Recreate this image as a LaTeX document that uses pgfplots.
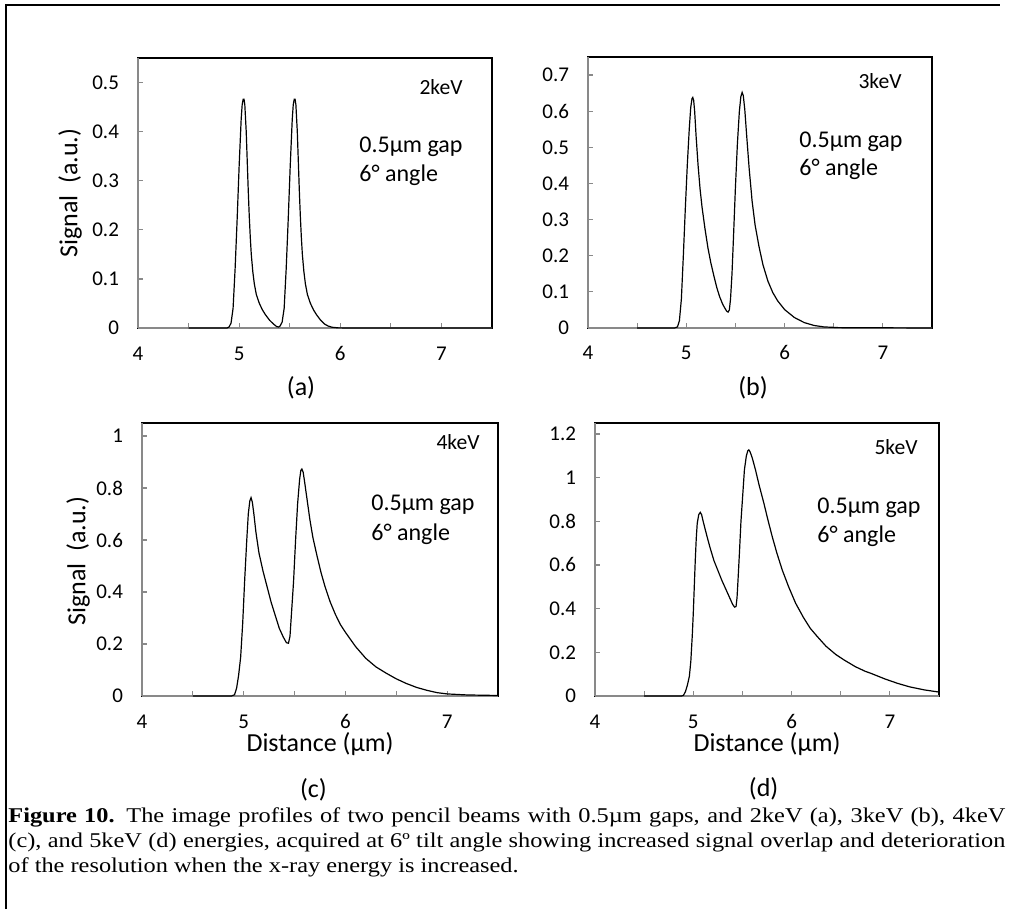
\documentclass[border=0pt]{standalone}
\usepackage{fontspec}
\setmainfont{Carlito}
\newfontfamily\capfont[FakeStretch=1.16]{Liberation Serif}
\usepackage{pgfplots}
\pgfplotsset{compat=1.18}
\definecolor{axgray}{HTML}{898989}

\pgfplotsset{
  panel/.style={
    scale only axis, anchor=north west,
    xmin=4, xmax=7.5, ymin=0,
    xtick={4,5,6,7}, minor xtick={4.5,5.5,6.5},
    tick pos=left, tick align=inside,
    major tick length=2.5pt, minor tick length=2.5pt,
    tick style={axgray, line width=0.6pt},
    axis line style={black, line width=0.8pt},
    ticklabel style={font=\fontsize{10.5}{12}\selectfont},
    /pgf/number format/assume math mode=true,
    yticklabel style={/pgf/number format/fixed, xshift=-6pt},
    xticklabel style={anchor=base, yshift=-16pt},
    clip=false,
  },
  curve/.style={black, line width=0.6pt, no marks},
}
\newcommand{\grayaxes}{%
  \draw[axgray, line width=1.1pt] (rel axis cs:0,0) -- (rel axis cs:1,0);
  \draw[axgray, line width=0.8pt] (rel axis cs:0,0) -- (rel axis cs:0,1);}

\begin{document}
\begin{tikzpicture}
\useasboundingbox (0,0) rectangle (505pt,-454.5pt);
\fill[white] (0,0) rectangle (505pt,-454.5pt);
\draw[line width=1pt] (3pt,-454.5pt) -- (3pt,-2.5pt) -- (500pt,-2.5pt);

% (a) 2keV
\begin{axis}[panel, at={(69pt,-29pt)}, width=177pt, height=135pt,
  ymax=0.55, ytick={0,0.1,0.2,0.3,0.4,0.5}]
\grayaxes
\addplot[curve] coordinates {
(4.5,0)(4.88,0)(4.9,0.002)(4.92,0.01)(4.94,0.04)(4.96,0.12)(4.98,0.22)(5.0,0.33)
(5.02,0.425)(5.03,0.455)(5.04,0.466)(5.048,0.466)(5.056,0.455)(5.07,0.40)(5.08,0.34)
(5.09,0.28)(5.10,0.228)(5.11,0.185)(5.12,0.15)(5.135,0.115)(5.15,0.09)(5.17,0.068)
(5.20,0.05)(5.23,0.037)(5.26,0.027)(5.30,0.016)(5.34,0.008)(5.37,0.003)(5.39,0.002)
(5.405,0.004)(5.425,0.012)(5.445,0.04)(5.465,0.12)(5.485,0.22)(5.505,0.33)(5.525,0.425)
(5.535,0.455)(5.545,0.466)(5.553,0.466)(5.561,0.455)(5.575,0.40)(5.585,0.34)(5.595,0.28)
(5.605,0.228)(5.615,0.185)(5.625,0.15)(5.64,0.115)(5.655,0.09)(5.675,0.068)(5.705,0.05)
(5.735,0.037)(5.765,0.027)(5.805,0.016)(5.845,0.008)(5.88,0.004)(5.92,0.0015)(5.98,0.0003)
(6.1,0)(7.5,0)};
\end{axis}

% (b) 3keV
\begin{axis}[panel, at={(294pt,-28.5pt)}, width=172pt, height=135.5pt,
  ymax=0.75, ytick={0,0.1,0.2,0.3,0.4,0.5,0.6,0.7}]
\grayaxes
\addplot[curve] coordinates {
(4.5,0)(4.88,0)(4.91,0.003)(4.93,0.02)(4.95,0.08)(4.97,0.2)(4.99,0.33)(5.01,0.45)
(5.03,0.55)(5.045,0.61)(5.058,0.635)(5.066,0.638)(5.075,0.63)(5.085,0.60)(5.10,0.53)
(5.12,0.45)(5.14,0.385)(5.16,0.335)(5.19,0.275)(5.22,0.222)(5.25,0.18)(5.28,0.145)
(5.31,0.112)(5.34,0.086)(5.37,0.066)(5.39,0.056)(5.41,0.047)(5.425,0.044)(5.438,0.05)
(5.45,0.08)(5.465,0.15)(5.48,0.25)(5.50,0.39)(5.52,0.51)(5.54,0.60)(5.555,0.64)
(5.568,0.652)(5.58,0.643)(5.595,0.605)(5.615,0.53)(5.64,0.44)(5.67,0.35)(5.70,0.285)
(5.74,0.225)(5.78,0.175)(5.83,0.13)(5.88,0.098)(5.93,0.075)(6.0,0.051)(6.1,0.029)
(6.2,0.015)(6.3,0.007)(6.4,0.003)(6.55,0.001)(7.5,0)};
\end{axis}

% (c) 4keV
\begin{axis}[panel, at={(71pt,-211.5pt)}, width=178pt, height=136.5pt,
  ymax=1.05, ytick={0,0.2,0.4,0.6,0.8,1}]
\grayaxes
\addplot[curve] coordinates {
(4.5,0)(4.88,0)(4.91,0.005)(4.93,0.03)(4.95,0.08)(4.97,0.15)(4.99,0.28)(5.01,0.45)
(5.03,0.6)(5.045,0.70)(5.06,0.75)(5.072,0.763)(5.085,0.745)(5.10,0.70)(5.12,0.63)
(5.15,0.55)(5.19,0.48)(5.23,0.42)(5.27,0.36)(5.31,0.31)(5.35,0.26)(5.39,0.226)
(5.42,0.205)(5.44,0.203)(5.455,0.23)(5.47,0.32)(5.49,0.44)(5.51,0.6)(5.53,0.74)
(5.55,0.835)(5.562,0.868)(5.572,0.873)(5.585,0.86)(5.60,0.82)(5.625,0.75)(5.65,0.68)
(5.68,0.61)(5.72,0.54)(5.76,0.475)(5.80,0.42)(5.85,0.362)(5.90,0.315)(5.95,0.275)
(6.0,0.245)(6.1,0.19)(6.2,0.145)(6.3,0.112)(6.4,0.088)(6.5,0.066)(6.6,0.048)
(6.7,0.033)(6.8,0.022)(6.9,0.013)(7.0,0.008)(7.2,0.004)(7.5,0.002)};
\end{axis}

% (d) 5keV
\begin{axis}[panel, at={(297.5pt,-211.5pt)}, width=172pt, height=136.5pt,
  ymax=1.25, ytick={0,0.2,0.4,0.6,0.8,1,1.2}]
\grayaxes
\addplot[curve] coordinates {
(4.5,0)(4.88,0)(4.90,0.003)(4.92,0.02)(4.94,0.05)(4.96,0.09)(4.975,0.16)(4.99,0.28)
(5.0,0.38)(5.01,0.50)(5.02,0.62)(5.03,0.72)(5.04,0.79)(5.055,0.83)(5.071,0.841)
(5.085,0.83)(5.10,0.80)(5.12,0.765)(5.14,0.73)(5.17,0.68)(5.21,0.62)(5.25,0.575)
(5.29,0.53)(5.32,0.50)(5.35,0.47)(5.38,0.44)(5.40,0.42)(5.42,0.407)(5.435,0.41)
(5.445,0.45)(5.455,0.53)(5.47,0.66)(5.485,0.80)(5.50,0.90)(5.52,1.035)(5.54,1.1)
(5.555,1.123)(5.565,1.127)(5.578,1.118)(5.60,1.09)(5.633,1.035)(5.67,0.965)(5.718,0.883)
(5.76,0.805)(5.803,0.73)(5.85,0.655)(5.905,0.577)(5.97,0.50)(6.041,0.425)(6.12,0.36)
(6.19,0.31)(6.262,0.272)(6.35,0.228)(6.45,0.19)(6.534,0.165)(6.65,0.134)(6.75,0.113)
(6.806,0.104)(6.95,0.078)(7.078,0.058)(7.2,0.042)(7.35,0.028)(7.5,0.018)};
\end{axis}

% axis titles and panel letters
\begin{scope}[every node/.style={inner sep=0, font=\fontsize{13}{15}\selectfont}]
\node[rotate=90] at (35pt,-96.5pt) {Signal\ \ (a.u.)};
\node[rotate=90] at (39pt,-280.5pt) {Signal\ \ (a.u.)};
\node at (160pt,-372pt) {Distance (µm)};
\node at (383.5pt,-372pt) {Distance (µm)};
\node at (150.5pt,-194pt) {(a)};
\node at (376.5pt,-194pt) {(b)};
\node at (156.7pt,-395pt) {(c)};
\node at (381.8pt,-394.5pt) {(d)};
\end{scope}

% annotations
\begin{scope}[every node/.style={inner sep=0, font=\fontsize{10.8}{13}\selectfont}]
\node[anchor=base east] at (231.5pt,-47.5pt) {2keV};
\node[anchor=base east] at (451pt,-44.5pt) {3keV};
\node[anchor=base east] at (240pt,-224.5pt) {4keV};
\node[anchor=base east] at (459pt,-227pt) {5keV};
\end{scope}
\begin{scope}[every node/.style={inner sep=0, anchor=base west, font=\fontsize{12}{14}\selectfont}]
\node at (179.5pt,-76.5pt) {0.5µm gap};
\node at (179.5pt,-91pt) {6° angle};
\node at (399.5pt,-74pt) {0.5µm gap};
\node at (399.5pt,-88pt) {6° angle};
\node at (185.5pt,-255pt) {0.5µm gap};
\node at (185.5pt,-270pt) {6° angle};
\node at (408.5pt,-256.5pt) {0.5µm gap};
\node at (408.5pt,-271pt) {6° angle};
\end{scope}

% caption
\node[anchor=base west, inner sep=0] at (4pt,-411pt) {\parbox[t]{498.5pt}{\capfont\fontsize{10.5}{12.5}\selectfont
\textbf{Figure 10.} The image profiles of two pencil beams with 0.5µm gaps, and 2keV (a), 3keV (b), 4keV\linebreak
(c), and 5keV (d) energies, acquired at 6º tilt angle showing increased signal overlap and deterioration\linebreak
of the resolution when the x-ray energy is increased.}};
\end{tikzpicture}
\end{document}
